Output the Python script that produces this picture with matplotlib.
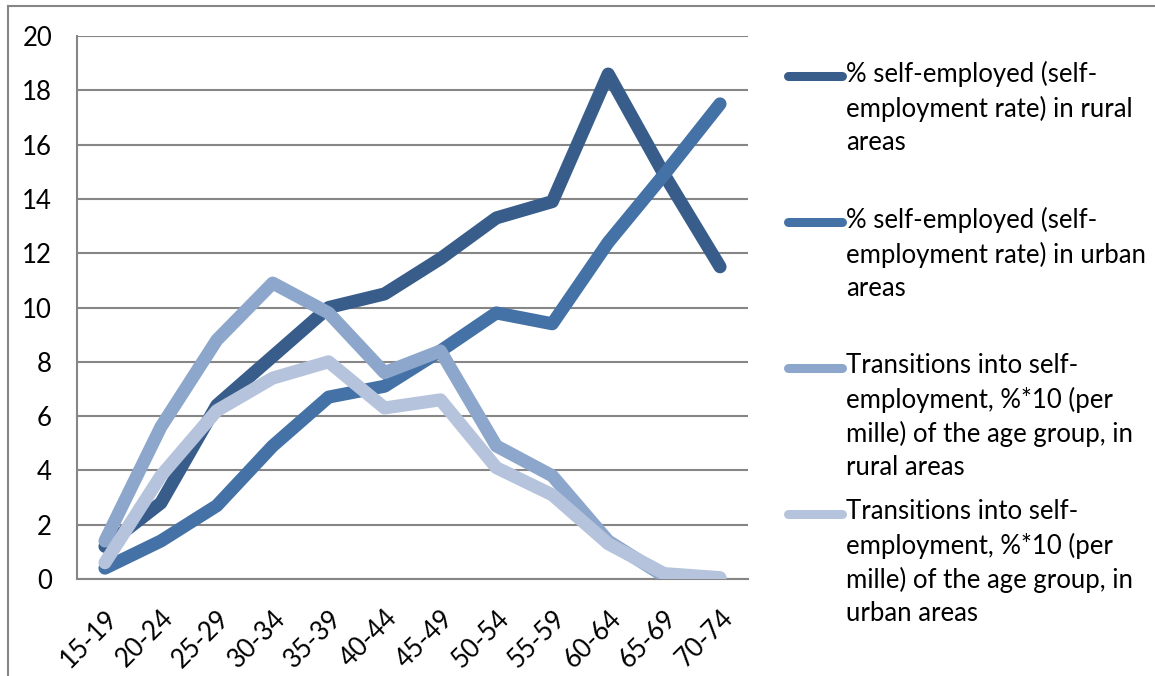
import numpy as np
import matplotlib.pyplot as plt
from matplotlib.lines import Line2D

# age groups on the x axis
age_groups = ["15-19", "20-24", "25-29", "30-34", "35-39", "40-44",
              "45-49", "50-54", "55-59", "60-64", "65-69", "70-74"]

# self-employment rate, %
rural_rate = [1.2, 2.8, 6.4, 8.2, 10.0, 10.5, 11.8, 13.3, 13.9, 18.6, 14.9, 11.5]
urban_rate = [0.4, 1.4, 2.7, 4.9, 6.7, 7.1, 8.4, 9.8, 9.4, 12.4, 14.9, 17.5]

# transitions into self-employment, per mille
rural_trans = [1.4, 5.6, 8.8, 10.9, 9.8, 7.6, 8.4, 4.9, 3.8, 1.4, 0.1, 0.0]
urban_trans = [0.6, 3.8, 6.2, 7.4, 8.0, 6.3, 6.6, 4.1, 3.1, 1.3, 0.2, 0.05]

labels = [
    "% self-employed (self-\nemployment rate) in rural\nareas",
    "% self-employed (self-\nemployment rate) in urban\nareas",
    "Transitions into self-\nemployment, %*10 (per\nmille) of the age group, in\nrural areas",
    "Transitions into self-\nemployment, %*10 (per\nmille) of the age group, in\nurban areas",
]
colors = ["#385D8A", "#4471A6", "#8DA6CB", "#B6C3DC"]
series = [rural_rate, urban_rate, rural_trans, urban_trans]

plt.rcParams['font.family'] = ['Lato', 'DejaVu Sans']
W, H = 1155, 676
fs = 18.5
fig = plt.figure(figsize=(W / 100, H / 100), dpi=100)
ax = fig.add_axes([77 / W, 1 - 579 / H, (748 - 77) / W, (579 - 36) / H])

grid_col = "#868686"
x = np.arange(len(age_groups))
for y, c in zip(series, colors):
    ax.plot(x, y, color=c, lw=9.4, solid_capstyle='round',
            solid_joinstyle='round', zorder=3)

ax.set_xlim(-0.5, len(age_groups) - 0.5)
ax.set_ylim(0, 20)
ax.set_yticks(range(0, 21, 2))
ax.yaxis.grid(True, color=grid_col, lw=1.5)
ax.set_axisbelow(True)
ax.set_xticks(x)
ax.set_xticklabels(age_groups, rotation=45, ha='right', va='top',
                   rotation_mode='anchor', fontsize=fs)
ax.tick_params(axis='x', length=0, pad=19)
ax.tick_params(axis='y', length=0, pad=18, labelsize=fs)
for s in ['top', 'right']:
    ax.spines[s].set_visible(False)
for s in ['left', 'bottom']:
    ax.spines[s].set_color(grid_col)
    ax.spines[s].set_linewidth(1.5)

# outer chart frame
fig.add_artist(Line2D([8 / W, 1], [1 - 6 / H, 1 - 6 / H], color=grid_col, lw=1.5))
fig.add_artist(Line2D([8 / W, 8 / W], [0, 1 - 6 / H], color=grid_col, lw=1.5))

# legend, drawn by hand so the key sits on the first text line
first_line_y = [76, 222, 368, 514]
for ly, c, lab in zip(first_line_y, colors, labels):
    fig.add_artist(Line2D([788 / W, 842 / W], [1 - ly / H, 1 - ly / H], color=c,
                          lw=6.5, solid_capstyle='round'))
    fig.text(846 / W, 1 - (ly - 15) / H, lab, fontsize=fs, va='top',
             ha='left', linespacing=1.4)

fig.savefig("out.png", dpi=100)
